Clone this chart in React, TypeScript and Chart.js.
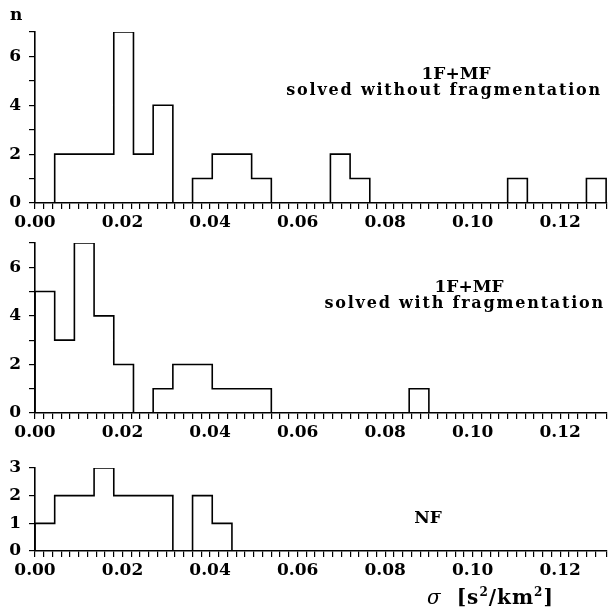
import React, { useEffect, useRef } from 'react';
import { Chart, registerables } from 'chart.js';

Chart.register(...registerables);

// ---- data ----
const BIN_WIDTH = 0.0045;
const X_MIN = 0;
const X_MAX = 0.1307;
const X_TICK_STEP = 0.002;
const X_LABEL_STEP = 0.02;

// counts per bin, bin i spans [i*BIN_WIDTH, (i+1)*BIN_WIDTH]
const countsWithoutFrag = [0, 2, 2, 2, 7, 2, 4, 0, 1, 2, 2, 1, 0, 0, 0, 2, 1, 0, 0, 0, 0, 0, 0, 0, 1, 0, 0, 0, 1];
const countsWithFrag = [5, 3, 7, 4, 2, 0, 1, 2, 2, 1, 1, 1, 0, 0, 0, 0, 0, 0, 0, 1];
const countsNF = [1, 2, 2, 3, 2, 2, 2, 0, 2, 1];

const yMaxTop = 7;
const yMaxMid = 7;
const yMaxBottom = 3;
const yLabelEveryTop = 2;
const yLabelEveryMid = 2;
const yLabelEveryBottom = 1;

const FONT_FAMILY = '"DejaVu Serif", "Liberation Serif", serif';

function toSteps(counts: number[]) {
  const pts: { x: number; y: number }[] = [{ x: 0, y: 0 }];
  counts.forEach((c, i) => pts.push({ x: i * BIN_WIDTH, y: c }));
  pts.push({ x: counts.length * BIN_WIDTH, y: 0 });
  return pts;
}

type PanelCfg = {
  counts: number[];
  yMax: number;
  labelEvery: number;
  top: number;
  height: number;
  plotTop: number;
  plotBottom: number;
};

// canvases overlap slightly (they are transparent) so each has room for its labels
const panels: PanelCfg[] = [
  { counts: countsWithoutFrag, yMax: yMaxTop, labelEvery: yLabelEveryTop, top: 0, height: 235, plotTop: 32, plotBottom: 203 },
  { counts: countsWithFrag, yMax: yMaxMid, labelEvery: yLabelEveryMid, top: 215, height: 230, plotTop: 243, plotBottom: 413 },
  { counts: countsNF, yMax: yMaxBottom, labelEvery: yLabelEveryBottom, top: 440, height: 170, plotTop: 468, plotBottom: 551 },
];

function makeChart(canvas: HTMLCanvasElement, p: PanelCfg) {
  const xAxisHeight = p.top + p.height - p.plotBottom;
  return new Chart(canvas, {
    type: 'line',
    data: {
      datasets: [
        {
          data: toSteps(p.counts),
          stepped: 'before',
          borderColor: '#000',
          borderWidth: 1.6,
          pointRadius: 0,
          fill: false,
          tension: 0,
        },
      ],
    },
    options: {
      responsive: false,
      animation: false,
      events: [],
      layout: { padding: { top: p.plotTop - p.top, left: 0, right: 1, bottom: 0 } },
      plugins: { legend: { display: false }, tooltip: { enabled: false }, title: { display: false } },
      scales: {
        x: {
          type: 'linear',
          min: X_MIN,
          max: X_MAX,
          afterFit: (scale: any) => {
            scale.height = xAxisHeight;
          },
          grid: { drawOnChartArea: false, drawTicks: true, tickLength: 6, color: '#000', lineWidth: 1.2 },
          border: { display: true, color: '#000', width: 1.6 },
          ticks: {
            stepSize: X_TICK_STEP,
            autoSkip: false,
            maxRotation: 0,
            minRotation: 0,
            padding: 3,
            color: '#000',
            font: { family: FONT_FAMILY, size: 17, weight: 'bold' },
            callback: (v: any) => {
              const q = Number(v) / X_LABEL_STEP;
              return Math.abs(q - Math.round(q)) < 1e-6 ? Number(v).toFixed(2) : '';
            },
          },
        },
        y: {
          type: 'linear',
          min: 0,
          max: p.yMax,
          afterFit: (scale: any) => {
            scale.width = 35;
          },
          grid: { drawOnChartArea: false, drawTicks: true, tickLength: 6, color: '#000', lineWidth: 1.2 },
          border: { display: true, color: '#000', width: 1.6 },
          ticks: {
            stepSize: 1,
            autoSkip: false,
            padding: 8,
            color: '#000',
            font: { family: FONT_FAMILY, size: 17, weight: 'bold' },
            callback: (v: any) => (Math.round(Number(v)) % p.labelEvery === 0 ? String(v) : ''),
          },
        },
      },
    } as any,
  });
}

const textBase: React.CSSProperties = {
  position: 'absolute',
  fontFamily: FONT_FAMILY,
  fontWeight: 'bold',
  color: '#000',
  whiteSpace: 'nowrap',
  lineHeight: 1,
};

export default function App() {
  const refs = [useRef<HTMLCanvasElement>(null), useRef<HTMLCanvasElement>(null), useRef<HTMLCanvasElement>(null)];

  useEffect(() => {
    const charts = panels.map((p, i) => makeChart(refs[i].current as HTMLCanvasElement, p));
    return () => charts.forEach((c) => c.destroy());
  }, []);

  return (
    <div style={{ position: 'fixed', left: 0, top: 0, width: 610, height: 610, background: '#fff', overflow: 'hidden' }}>
      {panels.map((p, i) => (
        <canvas
          key={i}
          ref={refs[i]}
          width={610}
          height={p.height}
          style={{ position: 'absolute', left: 0, top: p.top, width: 610, height: p.height }}
        />
      ))}
      <div style={{ ...textBase, left: 10, top: 6, fontSize: 17 }}>n</div>

      <div style={{ ...textBase, left: 456, top: 73, fontSize: 17, transform: 'translate(-50%, -50%)' }}>1F+MF</div>
      <div style={{ ...textBase, right: 8, top: 90, fontSize: 16, letterSpacing: '1.8px', transform: 'translateY(-50%)' }}>
        solved without fragmentation
      </div>

      <div style={{ ...textBase, left: 469, top: 286, fontSize: 17, transform: 'translate(-50%, -50%)' }}>1F+MF</div>
      <div style={{ ...textBase, right: 5, top: 303, fontSize: 16, letterSpacing: '1.8px', transform: 'translateY(-50%)' }}>
        solved with fragmentation
      </div>

      <div style={{ ...textBase, left: 428, top: 517, fontSize: 17, transform: 'translate(-50%, -50%)' }}>NF</div>

      <div style={{ ...textBase, left: 427, top: 586, fontSize: 20, fontWeight: 'bold' }}>
        <span style={{ fontStyle: 'italic', fontWeight: 'normal' }}>σ</span>
        <span style={{ marginLeft: 16, letterSpacing: '1px' }}>
          [s<sup style={{ fontSize: 12 }}>2</sup>/km<sup style={{ fontSize: 12 }}>2</sup>]
        </span>
      </div>
    </div>
  );
}
